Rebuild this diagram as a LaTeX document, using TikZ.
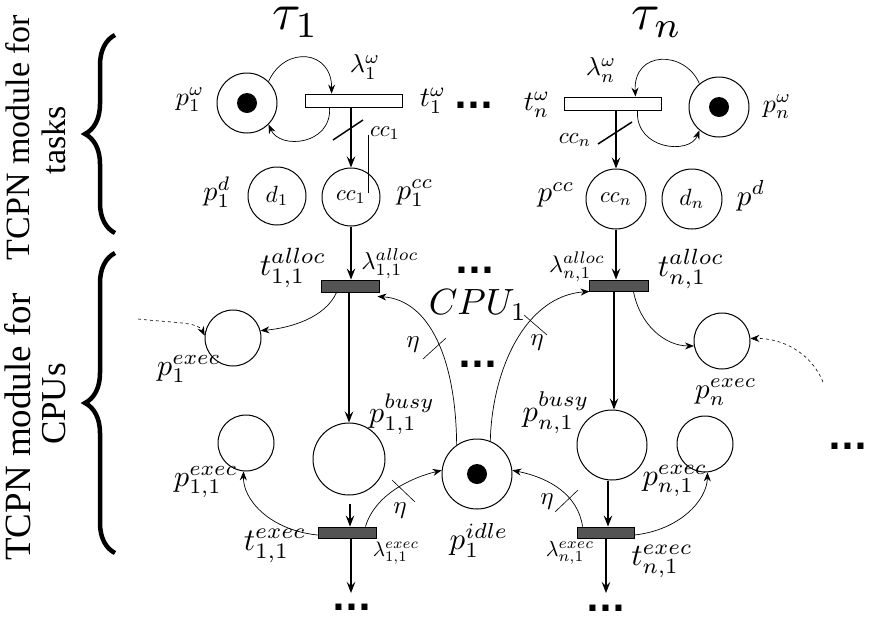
\documentclass[tikz,border=0pt]{standalone}
\usepackage{fontspec}
\newfontfamily\serifT{Liberation Serif}
\newfontfamily\dotsfont{DejaVu Sans}
\usetikzlibrary{arrows.meta,decorations.pathreplacing}
\newcommand\fsz[1]{\fontsize{#1}{#1}\selectfont}
\newcommand\ms[2]{\scalebox{#1}{$#2$}}
\begin{document}
\begin{tikzpicture}[x=1pt,y=-1pt,
  place/.style={circle,draw,line width=1pt,inner sep=0pt},
  token/.style={circle,fill=black,inner sep=0pt,minimum size=20pt},
  wtrans/.style={rectangle,draw,fill=white,line width=0.9pt,minimum width=97pt,minimum height=13pt,inner sep=0pt},
  dtrans/.style={rectangle,draw,fill=black!67,line width=0.9pt,minimum width=58pt,minimum height=12pt,inner sep=0pt},
  lab/.style={inner sep=0pt},
  arc/.style={line width=0.7pt,-{Stealth[length=9pt,width=7pt,inset=3pt]}},
  dasharc/.style={line width=0.6pt,dash pattern=on 3pt off 3pt,-{Stealth[length=9pt,width=7pt,inset=3pt]}},
  vert/.style={line width=1.2pt,-{Stealth[length=11pt,width=8.5pt,inset=4pt]}},
  slash/.style={line width=1.5pt},
  tslash/.style={line width=0.6pt},
  dotsl/.style={anchor=base,inner sep=0pt,font=\dotsfont\bfseries\fsz{34}},
  side/.style={rotate=90,anchor=base,inner sep=0pt},
  bracestyle/.style={decorate,decoration={brace,amplitude=30pt,aspect=0.5},line width=4.5pt}
]
\useasboundingbox (0,0) rectangle (872,622);

% ---------- task module tau_1 ----------
\node[place,minimum size=60pt] (pw1) at (247,103) {};
\node[token] (tokw1) at (pw1) {};
\node[wtrans] (tw1) at (353.5,100.5) {};
\node[place,minimum size=58pt] (pd1) at (277,196) {\ms{2.35}{d_1}};
\node[place,minimum size=58pt] (pcc1) at (351,197) {\ms{2.25}{cc_1}};

% ---------- task module tau_n ----------
\node[place,minimum size=60pt] (pwn) at (719,107) {};
\node[token] (tokwn) at (pwn) {};
\node[wtrans] (twn) at (612.5,103.5) {};
\node[place,minimum size=60pt] (pccn) at (616,199) {\ms{2.25}{cc_n}};
\node[place,minimum size=60pt] (pdn) at (692,199) {\ms{2.35}{d_n}};

% ---------- CPU module ----------
\node[dtrans] (alloc1) at (350,286) {};
\node[dtrans,minimum width=59pt,minimum height=11pt] (allocn) at (618.5,285.5) {};
\node[place,minimum size=56pt] (pe1) at (233,338) {};
\node[place,minimum size=56pt] (pen) at (722,341) {};
\node[place,minimum size=72pt] (busy1) at (349,459) {};
\node[place,minimum size=70pt] (busyn) at (612,445) {};
\node[place,minimum size=56pt] (pe11) at (246,443) {};
\node[place,minimum size=56pt] (pen1) at (705,444) {};
\node[place,minimum size=70pt] (pidle) at (477,474) {};
\node[token] (tokidle) at (pidle) {};
\node[dtrans,minimum height=11pt] (exec1) at (347,532.5) {};
\node[dtrans,minimum width=57pt,minimum height=11pt] (execn) at (605.5,532.5) {};

\coordinate (dL) at (138,319);
\coordinate (dR) at (823,382);
\coordinate (e1end) at (351,593);
\coordinate (e2end) at (606,593);

% ---------- connectors, tasks ----------
\draw[arc] (pw1.45) .. controls (285,45) and (332,50) .. ([xshift=27pt]tw1.north west);
\draw[arc] ([xshift=25pt]tw1.south west) .. controls (332,145) and (280,150) .. (pw1.-45);
\draw[vert] (tw1.south -| pcc1) -- (pcc1.north);
\draw[arc] (pwn.130) .. controls (685,50) and (633,50) .. ([xshift=-26pt]twn.north east);
\draw[arc] ([xshift=-24pt]twn.south east) .. controls (635,150) and (690,155) .. (pwn.230);
\draw[vert] (twn.south -| pccn) -- (pccn.north);
\draw[slash] (333,140) -- (363,120);
\draw[slash] (598,144) -- (632,122);
\draw[line width=0.6pt] (368,135) -- (368,193);

% ---------- connectors, CPU ----------
\draw[vert] (pcc1.south) -- (pcc1.south |- alloc1.north);
\draw[vert] (pccn.south) -- (pccn.south |- allocn.north);
\draw[vert] ([xshift=-1pt]alloc1.south) -- ([xshift=-1pt]alloc1.south |- busy1.north);
\draw[vert] ([xshift=-4.5pt]allocn.south) -- ([xshift=-4.5pt]allocn.south |- busyn.north);
\draw[arc] ([xshift=16pt]alloc1.south west) .. controls (325,318) and (290,328) .. (pe1.15);
\draw[dasharc] (dL) .. controls (175,323) and (198,322) .. (pe1.175);
\draw[arc] ([xshift=-15pt]allocn.south east) .. controls (640,325) and (665,346) .. (pen.190);
\draw[dasharc] (dR) .. controls (812,355) and (785,338) .. (pen.5);
\draw[arc] (pidle.125) .. controls (456,360) and (430,300) .. ([xshift=-2pt,yshift=-4pt]alloc1.south east);
\draw[arc] (pidle.68) .. controls (492,370) and (525,296) .. ([xshift=1pt]allocn.south west);
\draw[vert] ([xshift=1pt,yshift=-8pt]busy1.south) -- ([xshift=1pt]busy1.south |- exec1.north);
\draw[vert] ([xshift=-4pt]busyn.south) -- ([xshift=-4pt]busyn.south |- execn.north);
\draw[vert] ([xshift=4pt]exec1.south) -- (e1end);
\draw[vert] ([xshift=0.5pt]execn.south) -- (e2end);
\draw[arc] ([yshift=-2.5pt]exec1.west) .. controls (270,530) and (243,500) .. (pe11.265);
\draw[arc] ([xshift=-11pt]exec1.north east) .. controls (375,495) and (410,478) .. (pidle.174);
\draw[arc] ([xshift=6pt]execn.north west) .. controls (578,495) and (550,478) .. (pidle.6);
\draw[arc] ([yshift=-2.5pt]execn.east) .. controls (680,530) and (707,500) .. (pen1.275);
\draw[tslash] (423,359) -- (446,338);
\draw[tslash] (524,315) -- (547,335);
\draw[tslash] (392,480) -- (415,502);
\draw[tslash] (555,512) -- (578,490);

% ---------- labels ----------
\node[lab] (Ltau1) at (296,22) {\ms{5.2}{\tau_1}};
\node[lab] (Ltaun) at (657,22) {\ms{5.2}{\tau_n}};
\node[lab] (Lpw1) at (190,100) {\ms{2.6}{p_1^{\omega}}};
\node[lab] (Llw1) at (365,67) {\ms{2.6}{\lambda_1^{\omega}}};
\node[lab] (Ltw1) at (433,101) {\ms{2.8}{t_1^{\omega}}};
\node[lab] (Lcc1) at (385,133) {\ms{2.25}{cc_1}};
\node[lab] (Lpd1) at (217,192) {\ms{2.8}{p_1^d}};
\node[lab] (Lpcc1) at (415,193) {\ms{2.9}{p_1^{cc}}};
\node[lab] (Lpwn) at (777,107) {\ms{2.6}{p_n^{\omega}}};
\node[lab] (Llwn) at (601,70) {\ms{2.6}{\lambda_n^{\omega}}};
\node[lab] (Ltwn) at (537,105) {\ms{2.8}{t_n^{\omega}}};
\node[lab] (Lccn) at (575,140) {\ms{2.3}{cc_n}};
\node[lab] (Lpccn) at (556,195) {\ms{2.9}{p^{cc}}};
\node[lab] (Lpdn) at (751,196) {\ms{2.9}{p^d}};

\node[lab] (Lta1) at (293,268) {\ms{3.15}{t_{1,1}^{alloc}}};
\node[lab] (Lla1) at (390,264) {\ms{2.45}{\lambda_{1,1}^{alloc}}};
\node[lab] (Lpe1) at (189,369) {\ms{3.0}{p_1^{exec}}};
\node[lab] (Lbusy1) at (402,414) {\ms{3.0}{p_{1,1}^{busy}}};
\node[lab] (Lcpu) at (478,305) {\ms{3.65}{CPU_1}};
\node[lab] (Leta1) at (413,345) {\ms{2.5}{\eta}};
\node[lab] (Leta2) at (537,343) {\ms{2.5}{\eta}};
\node[lab] (Llan) at (577,267) {\ms{2.4}{\lambda_{n,1}^{alloc}}};
\node[lab] (Ltan) at (691,269) {\ms{3.15}{t_{n,1}^{alloc}}};
\node[lab] (Lpen) at (726,392) {\ms{2.9}{p_n^{exec}}};
\node[lab] (Lbusyn) at (556,413) {\ms{3.05}{p_{n,1}^{busy}}};
\node[lab] (Lpe11) at (206,482) {\ms{3.0}{p_{1,1}^{exec}}};
\node[lab] (Lte1) at (275,546) {\ms{3.15}{t_{1,1}^{exec}}};
\node[lab] (Lle1) at (396,553) {\ms{2.1}{\lambda_{1,1}^{exec}}};
\node[lab] (Lidle) at (479,540) {\ms{3.1}{p_1^{idle}}};
\node[lab] (Lpen1) at (675,481) {\ms{3.05}{p_{n,1}^{exec}}};
\node[lab] (Llen) at (570,553) {\ms{2.2}{\lambda_{n,1}^{exec}}};
\node[lab] (Lten) at (662,561) {\ms{3.1}{t_{n,1}^{exec}}};
\node[lab] (Leta3) at (400,511) {\ms{2.5}{\eta}};
\node[lab] (Leta4) at (547,502) {\ms{2.5}{\eta}};

% ---------- ellipses ----------
\node[dotsl] (dots1) at (474,108) {...};
\node[dotsl] (dots2) at (475,273) {...};
\node[dotsl] (dots3) at (478,367) {...};
\node[dotsl] (dots4) at (352,610) {...};
\node[dotsl] (dots5) at (606,611) {...};
\node[dotsl] (dots6) at (848,449) {...};

% ---------- module captions and braces ----------
\node[side,font=\serifT\fsz{34}] (T1) at (29,137.5) {TCPN module for};
\node[side,font=\serifT\fsz{34}] (T2) at (65,140) {tasks};
\node[side,font=\serifT\fsz{37}] (T3) at (30,427) {TCPN module for};
\node[side,font=\serifT\fsz{35}] (T4) at (65,404) {CPUs};
\draw[bracestyle] (115,233) -- (115,35);
\draw[bracestyle] (115,553) -- (115,253);
\end{tikzpicture}
\end{document}
